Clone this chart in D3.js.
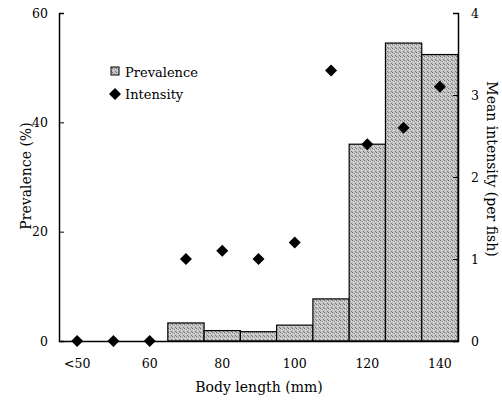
<!DOCTYPE html>
<html>
<head>
<meta charset="utf-8">
<script src="https://cdn.jsdelivr.net/npm/d3@7"></script>
<style>
  body { margin: 0; background: #fff; }
  text { font-family: "DejaVu Serif", "Liberation Serif", serif; fill: #000; }
</style>
</head>
<body>
<div class="chart"></div>
<script>
var categories = ["<50", "50", "60", "70", "80", "90", "100", "110", "120", "130", "140"];
var tickLabels = ["<50", "", "60", "", "80", "", "100", "", "120", "", "140"];
var prevalence = [0, 0, 0, 3.3, 1.9, 1.7, 2.9, 7.7, 36, 54.5, 52.4];
var intensity = [0, 0, 0, 1.0, 1.1, 1.0, 1.2, 3.3, 2.4, 2.6, 3.1];
var leftTicks = [0, 20, 40, 60];
var rightTicks = [0, 1, 2, 3, 4];

var width = 502, height = 401;
var margin = {top: 13, right: 44, bottom: 60, left: 59};

var svg = d3.select(".chart")
            .append("svg")
            .attr("width", width)
            .attr("height", height);

// stippled grey fill for the bars
var defs = svg.append("defs");
var pat = defs.append("pattern")
    .attr("id", "stipple")
    .attr("patternUnits", "userSpaceOnUse")
    .attr("width", 4)
    .attr("height", 4);
pat.append("rect").attr("width", 4).attr("height", 4).attr("fill", "#c2c2c2");
pat.append("rect").attr("x", 0).attr("y", 0).attr("width", 1).attr("height", 1).attr("fill", "#707070");
pat.append("rect").attr("x", 2).attr("y", 1).attr("width", 1).attr("height", 1).attr("fill", "#8c8c8c");
pat.append("rect").attr("x", 1).attr("y", 2).attr("width", 1).attr("height", 1).attr("fill", "#e6e6e6");
pat.append("rect").attr("x", 3).attr("y", 3).attr("width", 1).attr("height", 1).attr("fill", "#808080");
pat.append("rect").attr("x", 3).attr("y", 1).attr("width", 1).attr("height", 1).attr("fill", "#dedede");

var x = d3.scaleBand()
          .domain(categories)
          .range([margin.left, width - margin.right])
          .padding(0);

var yL = d3.scaleLinear().domain([0, 60]).range([341, margin.top]);
var yR = d3.scaleLinear().domain([0, 4]).range([341, margin.top]);

// bars
svg.append("g")
    .selectAll("rect")
    .data(categories)
  .enter().append("rect")
    .attr("x", function(d) { return x(d); })
    .attr("y", function(d, i) { return yL(prevalence[i]); })
    .attr("width", x.bandwidth())
    .attr("height", function(d, i) { return yL(0) - yL(prevalence[i]); })
    .attr("fill", "url(#stipple)")
    .attr("stroke", "#000")
    .attr("stroke-width", 1.2)
    .style("display", function(d, i) { return prevalence[i] > 0 ? null : "none"; });

// left axis
var axL = svg.append("g")
    .attr("transform", "translate(" + margin.left + ",0)")
    .call(d3.axisRight(yL).tickValues(leftTicks).tickSize(5).tickFormat(""));
axL.select(".domain").attr("stroke-width", 1.5);
svg.append("g").selectAll("text")
    .data(leftTicks)
  .enter().append("text")
    .attr("x", margin.left - 11)
    .attr("y", function(d) { return yL(d); })
    .attr("dy", "0.36em")
    .attr("text-anchor", "end")
    .style("font-size", "12.5px")
    .text(function(d) { return d; });

// right axis
var axR = svg.append("g")
    .attr("transform", "translate(" + (width - margin.right) + ",0)")
    .call(d3.axisLeft(yR).tickValues(rightTicks).tickSize(5).tickFormat(""));
axR.select(".domain").attr("stroke-width", 1.5);
svg.append("g").selectAll("text")
    .data(rightTicks)
  .enter().append("text")
    .attr("x", width - margin.right + 17)
    .attr("y", function(d) { return yR(d); })
    .attr("dy", "0.36em")
    .attr("text-anchor", "middle")
    .style("font-size", "12.5px")
    .text(function(d) { return d; });

// bottom axis
var axB = svg.append("g")
    .attr("transform", "translate(0,341)")
    .call(d3.axisBottom(x).tickSize(0).tickPadding(18)
      .tickFormat(function(d, i) { return tickLabels[i]; }));
axB.select(".domain").attr("stroke-width", 1.5);
axB.selectAll("text")
    .style("font-family", "'DejaVu Serif', serif")
    .style("font-size", "12.5px");

// intensity markers
svg.append("g")
    .selectAll("path")
    .data(categories)
  .enter().append("path")
    .attr("transform", function(d, i) {
      return "translate(" + (x(d) + x.bandwidth() / 2) + "," + yR(intensity[i]) + ") rotate(45)";
    })
    .attr("d", d3.symbol().type(d3.symbolSquare).size(72))
    .attr("fill", "#000");

// axis titles
svg.append("text")
    .attr("transform", "translate(26,176) rotate(-90)")
    .attr("text-anchor", "middle")
    .attr("dy", "0.35em")
    .style("font-size", "14px")
    .text("Prevalence (%)");

svg.append("text")
    .attr("transform", "translate(492,169) rotate(90)")
    .attr("text-anchor", "middle")
    .attr("dy", "0.35em")
    .style("font-size", "14px")
    .text("Mean intensity (per fish)");

svg.append("text")
    .attr("x", 259)
    .attr("y", 387)
    .attr("dy", "0.35em")
    .attr("text-anchor", "middle")
    .style("font-size", "14px")
    .text("Body length (mm)");

// legend
var legend = svg.append("g");
legend.append("rect")
    .attr("x", 111).attr("y", 67)
    .attr("width", 8).attr("height", 8)
    .attr("fill", "url(#stipple)")
    .attr("stroke", "#000");
legend.append("text")
    .attr("x", 125).attr("y", 72)
    .attr("dy", "0.35em")
    .style("font-size", "13px")
    .text("Prevalence");
legend.append("path")
    .attr("transform", "translate(115,94) rotate(45)")
    .attr("d", d3.symbol().type(d3.symbolSquare).size(72))
    .attr("fill", "#000");
legend.append("text")
    .attr("x", 125).attr("y", 94)
    .attr("dy", "0.35em")
    .style("font-size", "13px")
    .text("Intensity");
</script>
</body>
</html>
